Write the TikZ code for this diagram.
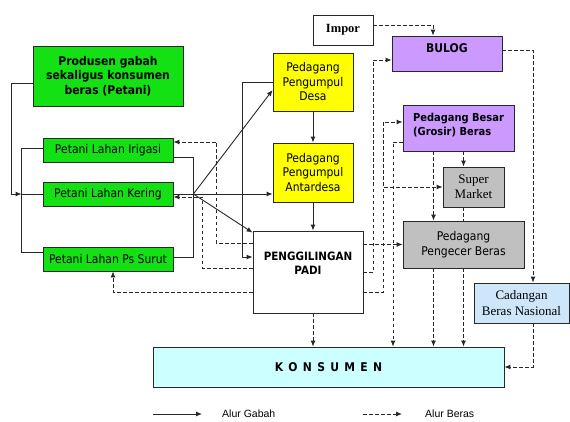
\documentclass[tikz,border=0pt]{standalone}
\usepackage{fontspec}
\newfontfamily\boxfont{DejaVu Sans}[FakeStretch=0.9]
\newfontfamily\timesfont{Liberation Serif}
\newfontfamily\legendfont{Liberation Sans}
\usetikzlibrary{arrows.meta}

\definecolor{hijau}{RGB}{20,225,20}
\definecolor{kuning}{RGB}{255,255,0}
\definecolor{ungu}{RGB}{204,153,255}
\definecolor{abu}{RGB}{192,192,192}
\definecolor{biru}{RGB}{205,230,250}
\definecolor{cyanmuda}{RGB}{204,255,255}
\definecolor{garis}{RGB}{40,40,40}

\tikzset{
  box/.style={draw=garis, line width=0.8pt, inner sep=1pt, align=center,
    font={\boxfont\fontsize{12}{14.5}\selectfont}},
  boxb/.style={box, font={\boxfont\bfseries\fontsize{12}{14.5}\selectfont}},
  boxt/.style={box, font={\timesfont\fontsize{13}{15.5}\selectfont}},
  sline/.style={draw=garis, line width=0.9pt},
  arr/.style={sline, -{Latex[length=6pt,width=5pt]}},
  dline/.style={sline, dash pattern=on 3.5pt off 2.5pt},
  darr/.style={arr, dash pattern=on 3.5pt off 2.5pt},
}

\begin{document}
\begin{tikzpicture}[x=1pt, y=1pt]
    \useasboundingbox (0,0) rectangle (570,421);

    % Petani
    \node[boxb, fill=hijau, minimum width=150, minimum height=60] (prod) at (108,345) {Produsen gabah\\sekaligus konsumen\\beras (Petani)};
    \node[box, fill=hijau, minimum width=130, minimum height=24] (irigasi) at (108,271) {Petani Lahan Irigasi};
    \node[box, fill=hijau, minimum width=130, minimum height=24] (kering) at (108,227) {Petani Lahan Kering};
    \node[box, fill=hijau, minimum width=130, minimum height=24] (surut) at (108,162) {Petani Lahan Ps Surut};

    % Pedagang pengumpul dan penggilingan
    \node[box, fill=kuning, minimum width=80, minimum height=58] (desa) at (313,339) {Pedagang\\Pengumpul\\Desa};
    \node[box, fill=kuning, minimum width=80, minimum height=59] (antar) at (313,248.5) {Pedagang\\Pengumpul\\Antardesa};
    \node[boxb, fill=white, minimum width=110, minimum height=82, font={\boxfont\bfseries\fontsize{11.5}{14.5}\selectfont}, text depth=18pt] (peng) at (308,149) {PENGGILINGAN\\PADI};

    % Impor, Bulog, pedagang beras
    \node[boxt, font={\timesfont\bfseries\fontsize{12.5}{15}\selectfont}, fill=white, minimum width=60, minimum height=30] (impor) at (343,391) {Impor};
    \node[boxb, fill=ungu, minimum width=110, minimum height=35, text depth=10pt] (bulog) at (447,367.5) {BULOG};
    \node[boxb, fill=ungu, minimum width=111, minimum height=46, align=left, text depth=8pt, font={\boxfont\bfseries\fontsize{11}{14}\selectfont}] (grosir) at (458.5,293) {Pedagang Besar\\(Grosir) Beras};
    \node[boxt, fill=abu, minimum width=61, minimum height=40] (superm) at (473.5,234) {Super\\Market};
    \node[box, fill=abu, minimum width=121, minimum height=47] (pengecer) at (463.5,176.5) {Pedagang\\Pengecer Beras};
    \node[boxt, fill=biru, minimum width=95, minimum height=40] (cadangan) at (521.5,118) {Cadangan\\Beras Nasional};

    % Konsumen
    \node[boxb, fill=cyanmuda, minimum width=351, minimum height=40] (konsumen) at (328.5,54) {K\hspace{5.3pt}O\hspace{5.3pt}N\hspace{5.3pt}S\hspace{5.3pt}U\hspace{5.3pt}M\hspace{5.3pt}E\hspace{5.3pt}N};

    % Alur gabah
    \coordinate (lb) at ([xshift=-21pt]kering.west);
    \coordinate (rb) at ([xshift=20pt]kering.east);
    \draw[arr] ([yshift=-7pt]prod.west) -- ++(-21,0) |- (lb);
    \draw[sline] ([yshift=2pt]irigasi.west) -| (lb) |- ([yshift=7pt]surut.west);
    \draw[sline] (lb) -- (kering.west);
    \draw[sline] ([yshift=-7pt]irigasi.east) -| (rb) |- ([yshift=2pt]surut.east);
    \draw[sline] (kering.east) -- (rb);
    \draw[arr] (rb) -- ([yshift=-8pt]desa.west);
    \draw[arr] (rb) -- (rb -| antar.west);
    \draw[arr] (rb) -- ([yshift=-2pt]peng.north west);
    \draw[arr] (desa.west) -- ++(-30,0) |- ([yshift=15pt]peng.west);
    \draw[arr] (desa) -- (antar);
    \draw[arr] (antar.south) -- (antar.south |- peng.north);

    % Alur beras
    \draw[darr] ([yshift=29pt]peng.west) -- ++(-36,0) |- ([yshift=8pt]irigasi.east);
    \draw[darr] ([yshift=4pt]peng.west) -- ++(-50,0) |- ([yshift=-3pt]kering.east);
    \draw[darr] ([yshift=-20pt]peng.west) -| ([xshift=5pt]surut.south);
    \draw[darr] (peng.east |- pengecer.west) -- (pengecer.west);
    \draw[darr] (peng.east) -- ++(10,0) |- ([yshift=-6.5pt]bulog.west);
    \draw[darr] ([yshift=-20pt]peng.east) -- ++(20,0) |- ([yshift=6pt]grosir.west);
    \draw[darr] ([yshift=-20pt]peng.east) -- ++(20,0) |- (superm.west);
    \draw[darr] ([xshift=5pt]peng.south) -- ([xshift=-15.5pt]konsumen.north);
    \draw[darr] ([yshift=5pt]impor.east) -| ([xshift=-14pt]bulog.north);
    \draw[darr] ([yshift=3.5pt]bulog.east) -| ([xshift=11.5pt]cadangan.north);
    \draw[darr] ([xshift=11.5pt]cadangan.south) |- (konsumen.east);
    \draw[darr] ([yshift=-14pt]grosir.west) -- ++(-10,0) -| ([xshift=64.5pt]konsumen.north);
    \draw[darr] ([xshift=-25pt]grosir.south) -- ([xshift=-30pt]pengecer.north);
    \draw[darr] ([xshift=5pt]grosir.south) -- ([xshift=-10pt]superm.north);
    \draw[dline] ([xshift=-10pt]superm.south) -- (pengecer.north);
    \draw[darr] ([xshift=-30pt]pengecer.south) -- ([xshift=105pt]konsumen.north);
    \draw[darr] (pengecer.south) -- ([xshift=135pt]konsumen.north);

    % Keterangan
    \coordinate (ga) at (153,7);
    \coordinate (gb) at (202,7);
    \coordinate (ba) at (363,7);
    \coordinate (bb) at (402,7);
    \draw[arr] (ga) -- (gb);
    \draw[darr] (ba) -- (bb);
    \node[anchor=west, inner sep=0pt, font={\legendfont\fontsize{10.5}{12}\selectfont}] (leggabah) at (222,7) {Alur Gabah};
    \node[anchor=west, inner sep=0pt, font={\legendfont\fontsize{10.5}{12}\selectfont}] (legberas) at (425,7) {Alur Beras};
\end{tikzpicture}
\end{document}
